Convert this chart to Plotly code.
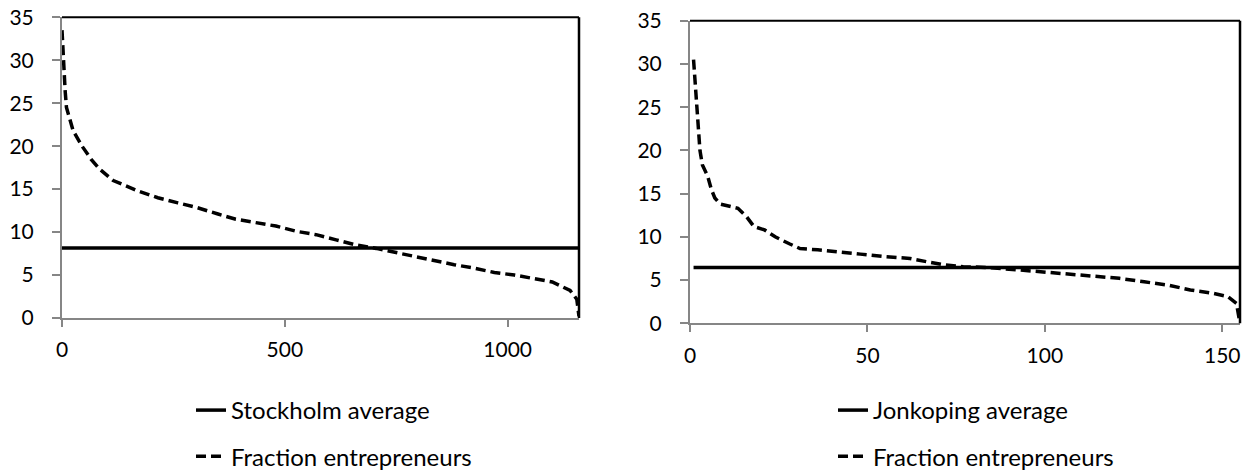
import plotly.graph_objects as go

# ---- Data: Stockholm (left panel) ----
sthlm_x = [0, 2, 4, 7, 10, 15, 25, 45, 65, 85, 115, 170, 215, 260, 300, 350, 390, 435,
           480, 525, 570, 615, 660, 705, 750, 790, 835, 880, 925, 970, 1015, 1060, 1100,
           1140, 1155, 1160]
sthlm_frac = [33.5, 31.0, 28.0, 26.5, 24.5, 23.5, 21.8, 20.0, 18.5, 17.3, 16.0, 14.8, 14.0,
              13.4, 12.9, 12.1, 11.5, 11.1, 10.7, 10.1, 9.7, 9.1, 8.5, 8.1, 7.6, 7.2, 6.6,
              6.2, 5.8, 5.3, 5.0, 4.6, 4.2, 3.2, 2.2, 0.2]
sthlm_avg_x = [0, 1160]
sthlm_avg_y = [8.15, 8.15]

# ---- Data: Jonkoping (right panel) ----
jkpg_x = [1, 1.5, 2, 2.8, 3.5, 5, 6, 7, 8.5, 11, 13.5, 16, 18, 21, 24, 28, 31, 36, 42, 48,
          55, 62, 67, 71, 77, 84, 92, 100, 107, 114, 121, 128, 135, 141, 147, 151.5, 154, 155]
jkpg_frac = [30.5, 27.5, 24.0, 20.0, 18.3, 17.0, 15.5, 14.5, 13.8, 13.5, 13.3, 12.3, 11.2,
             10.8, 10.0, 9.2, 8.65, 8.5, 8.2, 8.0, 7.7, 7.5, 7.1, 6.8, 6.55, 6.45, 6.2, 5.95,
             5.7, 5.45, 5.2, 4.8, 4.4, 3.85, 3.5, 3.1, 2.3, 0.0]
jkpg_avg_x = [1, 155]
jkpg_avg_y = [6.46, 6.46]

y_ticks = [0, 5, 10, 15, 20, 25, 30, 35]
x_ticks_left = [0, 500, 1000]
x_ticks_right = [0, 50, 100, 150]

FONT = "Lato"
FS = 21
LFS = 24
GRAY = "#868686"

fig = go.Figure()

fig.add_trace(go.Scatter(x=sthlm_avg_x, y=sthlm_avg_y, mode="lines", name="Stockholm average",
                         line=dict(color="black", width=3.5), xaxis="x", yaxis="y",
                         legend="legend", legendgroup="a", legendrank=1))
fig.add_trace(go.Scatter(x=sthlm_x, y=sthlm_frac, mode="lines", name="Fraction entrepreneurs",
                         line=dict(color="black", width=3.5, dash="10px,5px"),
                         xaxis="x", yaxis="y", legend="legend", legendgroup="b", legendrank=2))
fig.add_trace(go.Scatter(x=jkpg_avg_x, y=jkpg_avg_y, mode="lines", name="Jonkoping average",
                         line=dict(color="black", width=3.5), xaxis="x2", yaxis="y2",
                         legend="legend2", legendgroup="c", legendrank=1))
fig.add_trace(go.Scatter(x=jkpg_x, y=jkpg_frac, mode="lines", name="Fraction entrepreneurs",
                         line=dict(color="black", width=3.5, dash="10px,5px"),
                         xaxis="x2", yaxis="y2", legend="legend2", legendgroup="d", legendrank=2))

# The page body has an 8px margin; lay out in page pixels and convert.
OFF = 8
W, H = 1256 - OFF, 472 - OFF

def xd(p0, p1):
    return [(p0 - OFF) / W, (p1 - OFF) / W]

def yd(top, bottom):
    return [(H - (bottom - OFF)) / H, (H - (top - OFF)) / H]

def yax(dom, anchor):
    return dict(domain=dom, range=[0, 35], tickvals=y_ticks, showgrid=False, zeroline=False,
                showline=True, linecolor=GRAY, linewidth=2, ticks="outside", ticklen=8,
                tickcolor=GRAY, tickwidth=1.5, ticklabelstandoff=14, anchor=anchor,
                automargin=False, ticklabeloverflow="allow",
                tickfont=dict(family=FONT, size=FS, color="black"))

def xax(dom, rng, tv, anchor):
    return dict(domain=dom, range=rng, tickvals=tv, showgrid=False, zeroline=False,
                showline=True, linecolor=GRAY, linewidth=2, ticks="outside", ticklen=7,
                tickcolor=GRAY, tickwidth=1.5, ticklabelstandoff=5, anchor=anchor,
                automargin=False, ticklabeloverflow="allow",
                tickfont=dict(family=FONT, size=FS, color="black"))

leg_common = dict(xanchor="left", yanchor="top", y=(H - (388 - OFF)) / H,
                  bgcolor="rgba(0,0,0,0)", tracegroupgap=12,
                  font=dict(family=FONT, size=LFS, color="black"))

fig.update_layout(
    width=W, height=H,
    margin=dict(l=0, r=0, t=0, b=0, autoexpand=False),
    paper_bgcolor="white", plot_bgcolor="white",
    font=dict(family=FONT, size=FS, color="black"),
    xaxis=xax(xd(62, 579), [0, 1160], x_ticks_left, "y"),
    yaxis=yax(yd(17.3, 318), "x"),
    xaxis2=xax(xd(690, 1240), [0, 155], x_ticks_right, "y2"),
    yaxis2=yax(yd(20.7, 323.3), "x2"),
    legend=dict(x=(191 - OFF) / W, **leg_common),
    legend2=dict(x=(833 - OFF) / W, **leg_common),
    showlegend=True,
)

# Black top and right plot-area borders
for xr, yr in [("x domain", "y domain"), ("x2 domain", "y2 domain")]:
    fig.add_shape(type="line", xref=xr, yref=yr, x0=0, x1=1, y0=1, y1=1,
                  line=dict(color="black", width=2))
    fig.add_shape(type="line", xref=xr, yref=yr, x0=1, x1=1, y0=0, y1=1,
                  line=dict(color="black", width=2.5))

fig.write_html("out.html")
